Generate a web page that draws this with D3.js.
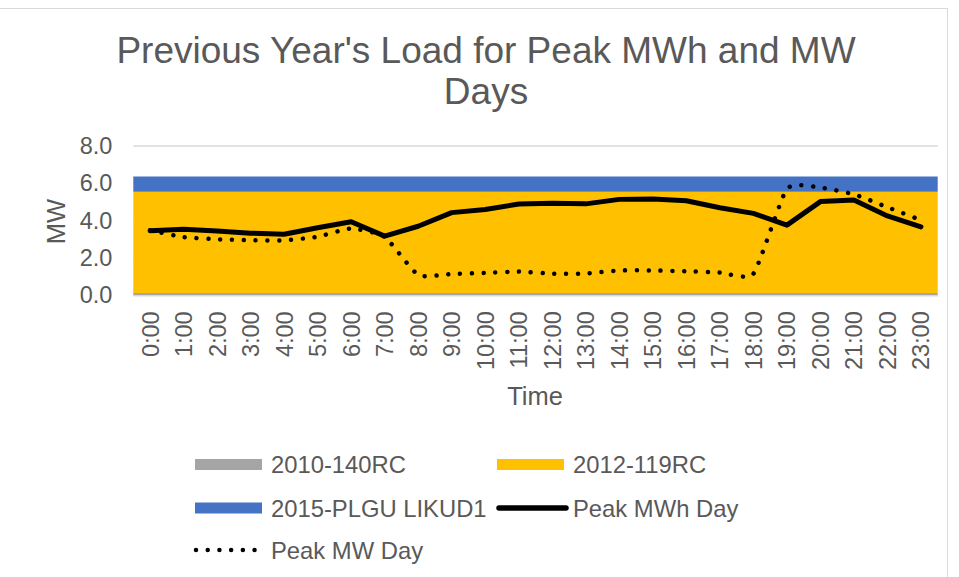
<!DOCTYPE html>
<html>
<head>
<meta charset="utf-8">
<script src="https://cdn.jsdelivr.net/npm/d3@7"></script>
<style>
  body { margin: 0; background: #fff; }
  svg { display: block; font-family: "Liberation Sans", Arial, sans-serif; }
</style>
</head>
<body>
<div id="chart"></div>
<script>
const hours = ["0:00", "1:00", "2:00", "3:00", "4:00", "5:00", "6:00", "7:00", "8:00", "9:00", "10:00", "11:00",
    "12:00", "13:00", "14:00", "15:00", "16:00", "17:00", "18:00", "19:00", "20:00", "21:00", "22:00", "23:00"];

// stacked area series (constant bands)
const rc2010 = [0.12, 0.12, 0.12, 0.12, 0.12, 0.12, 0.12, 0.12, 0.12, 0.12, 0.12, 0.12,
    0.12, 0.12, 0.12, 0.12, 0.12, 0.12, 0.12, 0.12, 0.12, 0.12, 0.12, 0.12];
const rc2012 = [5.43, 5.43, 5.43, 5.43, 5.43, 5.43, 5.43, 5.43, 5.43, 5.43, 5.43, 5.43,
    5.43, 5.43, 5.43, 5.43, 5.43, 5.43, 5.43, 5.43, 5.43, 5.43, 5.43, 5.43];
const plgu2015 = [0.81, 0.81, 0.81, 0.81, 0.81, 0.81, 0.81, 0.81, 0.81, 0.81, 0.81, 0.81,
    0.81, 0.81, 0.81, 0.81, 0.81, 0.81, 0.81, 0.81, 0.81, 0.81, 0.81, 0.81];

// line series
const peakMWhDay = [3.46, 3.54, 3.45, 3.33, 3.27, 3.62, 3.94, 3.17, 3.70, 4.43, 4.60, 4.89,
    4.93, 4.90, 5.14, 5.16, 5.07, 4.69, 4.39, 3.76, 5.02, 5.11, 4.25, 3.67];
const peakMWDay = [3.48, 3.12, 3.00, 2.95, 2.94, 3.14, 3.58, 3.13, 1.09, 1.14, 1.20, 1.27,
    1.16, 1.17, 1.33, 1.33, 1.29, 1.22, 1.15, 5.70, 5.77, 5.41, 4.72, 4.03];

const yTicks = [0, 2, 4, 6, 8];

const textColor = "#595959";
const gridColor = "#d9d9d9";

class LoadChart {
    constructor(selector) {
        this.selector = selector;
        this.width = 959;
        this.height = 577;
        this.plot = { left: 133.3, right: 937.7, top: 146, bottom: 295.3 };
        this.areaSeries = [
            { key: "2010-140RC", values: rc2010, color: "#a5a5a5" },
            { key: "2012-119RC", values: rc2012, color: "#ffc000" },
            { key: "2015-PLGU LIKUD1", values: plgu2015, color: "#4472c4" }
        ];
    }

    createCanvas() {
        const svg = d3.select(this.selector)
            .append("svg")
            .attr("width", this.width)
            .attr("height", this.height);
        svg.append("rect")
            .attr("x", -1).attr("y", 8.5)
            .attr("width", 948.5).attr("height", 570)
            .attr("fill", "#fff")
            .attr("stroke", gridColor);
        return svg;
    }

    createScales() {
        const x = d3.scaleBand()
            .domain(hours)
            .range([this.plot.left, this.plot.right])
            .padding(0);
        const y = d3.scaleLinear()
            .domain([0, 8])
            .range([this.plot.bottom, this.plot.top]);
        return { x, y };
    }

    renderTitle(svg) {
        const title = svg.append("text")
            .attr("text-anchor", "middle")
            .attr("fill", textColor)
            .style("font-size", "37px");
        title.append("tspan").attr("x", 486).attr("y", 62.5)
            .text("Previous Year's Load for Peak MWh and MW");
        title.append("tspan").attr("x", 486).attr("y", 104)
            .text("Days");
    }

    renderGrid(svg, y) {
        svg.append("g")
            .selectAll("line")
            .data(yTicks)
            .enter()
            .append("line")
            .attr("x1", this.plot.left)
            .attr("x2", this.plot.right)
            .attr("y1", d => y(d))
            .attr("y2", d => y(d))
            .attr("stroke", gridColor)
            .attr("stroke-width", 1.3);
    }

    renderAreas(svg, x, y) {
        const rows = hours.map((h, i) => {
            const row = { hour: h };
            this.areaSeries.forEach(s => { row[s.key] = s.values[i]; });
            return row;
        });
        const stacked = d3.stack().keys(this.areaSeries.map(s => s.key))(rows);
        const half = x.bandwidth() / 2;
        const last = hours.length - 1;

        // points sit at band centres, first and last stretched to the plot edges
        const area = d3.area()
            .x((d, i) => {
                const cx = x(d.data.hour) + half;
                if (i === 0) return cx - half;
                if (i === last) return cx + half;
                return cx;
            })
            .y0(d => y(d[0]))
            .y1(d => y(d[1]));

        svg.append("g")
            .selectAll("path")
            .data(stacked)
            .enter()
            .append("path")
            .attr("fill", (d, i) => this.areaSeries[i].color)
            .attr("d", area);
    }

    renderAxes(svg, x, y) {
        const yAxis = svg.append("g")
            .attr("transform", "translate(" + this.plot.left + ",0)")
            .call(d3.axisLeft(y).tickValues(yTicks).tickFormat(d3.format(".1f")).tickSize(0).tickPadding(21));
        yAxis.select(".domain").remove();
        yAxis.selectAll("text")
            .attr("fill", textColor)
            .style("font-size", "23.5px")
            .style("font-family", "Liberation Sans, Arial, sans-serif");

        const xAxis = svg.append("g")
            .attr("transform", "translate(0," + this.plot.bottom + ")")
            .call(d3.axisBottom(x).tickSize(0));
        xAxis.select(".domain")
            .attr("stroke", gridColor)
            .attr("stroke-width", 1.5);
        xAxis.selectAll("text")
            .attr("transform", "rotate(-90)")
            .attr("x", -16)
            .attr("y", 0)
            .attr("dy", "0.36em")
            .attr("fill", textColor)
            .style("text-anchor", "end")
            .style("font-size", "23.5px")
            .style("font-family", "Liberation Sans, Arial, sans-serif");

        svg.append("text")
            .attr("x", 535)
            .attr("y", 405)
            .attr("text-anchor", "middle")
            .attr("fill", textColor)
            .style("font-size", "25.5px")
            .text("Time");

        svg.append("text")
            .attr("transform", "translate(65,221.5) rotate(-90)")
            .attr("text-anchor", "middle")
            .attr("fill", textColor)
            .style("font-size", "25.5px")
            .text("MW");
    }

    renderLines(svg, x, y) {
        const half = x.bandwidth() / 2;

        const solid = d3.line()
            .x((d, i) => x(hours[i]) + half)
            .y(d => y(d));
        svg.append("path")
            .datum(peakMWhDay)
            .attr("fill", "none")
            .attr("stroke", "#000")
            .attr("stroke-width", 5)
            .attr("stroke-linejoin", "round")
            .attr("stroke-linecap", "round")
            .attr("d", solid);

        const smooth = d3.line()
            .x((d, i) => x(hours[i]) + half)
            .y(d => y(d))
            .curve(d3.curveCardinal.tension(0.5));
        svg.append("path")
            .datum(peakMWDay)
            .attr("fill", "none")
            .attr("stroke", "#000")
            .attr("stroke-width", 4.5)
            .attr("stroke-linecap", "round")
            .attr("stroke-dasharray", "0.01 11.8")
            .attr("d", smooth);
    }

    renderLegend(svg) {
        const items = [
            { label: "2010-140RC", type: "area", color: "#a5a5a5", col: 0, row: 0 },
            { label: "2012-119RC", type: "area", color: "#ffc000", col: 1, row: 0 },
            { label: "2015-PLGU LIKUD1", type: "area", color: "#4472c4", col: 0, row: 1 },
            { label: "Peak MWh Day", type: "solid", color: "#000", col: 1, row: 1 },
            { label: "Peak MW Day", type: "dot", color: "#000", col: 0, row: 2 }
        ];
        const colX = [195, 497];
        const rowY = [464.5, 508, 550];
        const swatchW = 67;

        const g = svg.append("g");
        items.forEach(item => {
            const sx = colX[item.col];
            const sy = rowY[item.row];
            if (item.type === "area") {
                g.append("rect")
                    .attr("x", sx).attr("y", sy - 5.5)
                    .attr("width", swatchW).attr("height", 11)
                    .attr("fill", item.color);
            } else if (item.type === "solid") {
                g.append("line")
                    .attr("x1", sx + 2).attr("x2", sx + swatchW + 2)
                    .attr("y1", sy).attr("y2", sy)
                    .attr("stroke", item.color)
                    .attr("stroke-width", 5.5)
                    .attr("stroke-linecap", "round");
            } else {
                g.append("line")
                    .attr("x1", sx + 1).attr("x2", sx + swatchW)
                    .attr("y1", sy).attr("y2", sy)
                    .attr("stroke", item.color)
                    .attr("stroke-width", 4.5)
                    .attr("stroke-linecap", "round")
                    .attr("stroke-dasharray", "0.01 11.7");
            }
            g.append("text")
                .attr("x", sx + 76)
                .attr("y", sy)
                .attr("dy", "0.36em")
                .attr("fill", textColor)
                .style("font-size", "23.8px")
                .text(item.label);
        });
    }

    build() {
        const svg = this.createCanvas();
        const { x, y } = this.createScales();

        this.renderTitle(svg);
        this.renderGrid(svg, y);
        this.renderAreas(svg, x, y);
        this.renderAxes(svg, x, y);
        this.renderLines(svg, x, y);
        this.renderLegend(svg);
    }
}

new LoadChart("#chart").build();
</script>
</body>
</html>
